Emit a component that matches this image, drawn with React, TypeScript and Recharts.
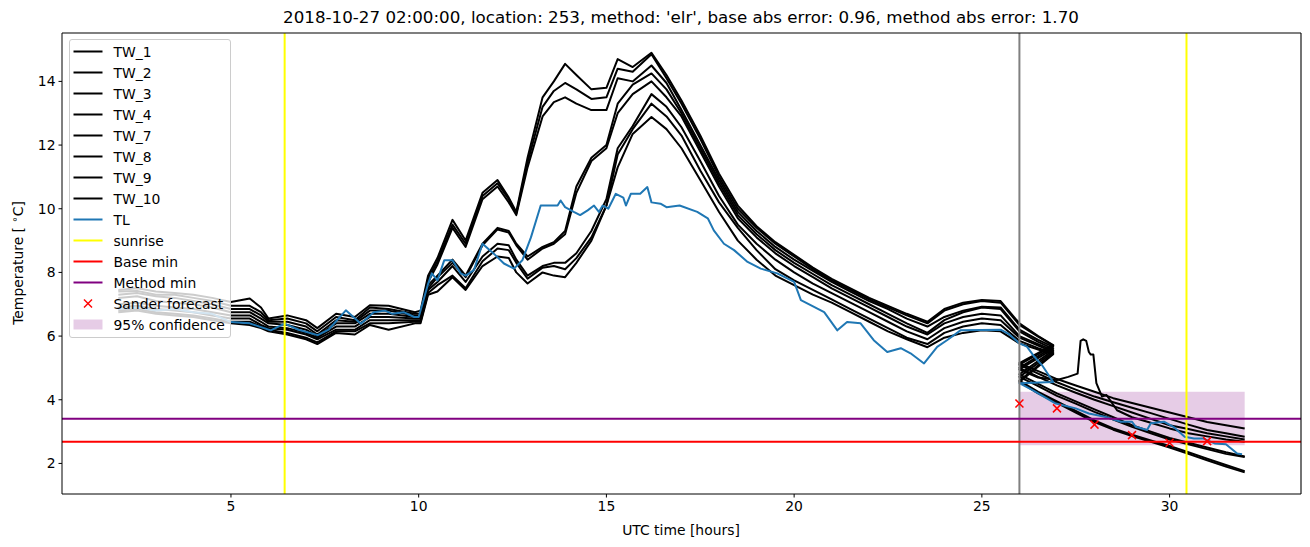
import React from 'react';
import { ComposedChart, Line, Scatter, XAxis, YAxis, ReferenceLine, ReferenceArea } from 'recharts';

const FONT = '"DejaVu Sans", sans-serif';
const TITLE = "2018-10-27 02:00:00, location: 253, method: 'elr', base abs error: 0.96, method abs error: 1.70";

// observed part, hours
const HIST_T = [
  2, 2.5, 3, 3.5, 4, 4.5, 5, 5.5, 5.8, 6, 6.5, 7, 7.3, 7.8, 8.3, 8.7, 9.2, 9.9,
  10.05, 10.25, 10.5, 10.9, 11.25, 11.7, 12.1, 12.4, 12.6, 12.9, 13.3, 13.6, 13.9, 14.2, 14.6, 15.0, 15.3, 15.7, 16.2,
  16.6, 17.0, 17.5, 18.0, 18.5, 19.0, 19.5, 20.0, 20.5, 21.0, 21.5, 22.0, 22.5, 23.0, 23.55, 24.0, 24.5, 25.0, 25.5, 26.0, 26.5, 26.9,
];
// forecast part, hours
const FC_T = [26, 26.5, 27, 27.5, 28, 28.5, 29, 29.5, 30, 30.5, 31, 31.5, 32];
const SPIKE_T = [26, 26.5, 27, 27.3, 27.55, 27.63, 27.7, 27.78, 27.85, 27.9, 27.97, 28.05, 28.2, 28.32, 28.6, 29, 29.5, 30, 30.5, 31, 31.5, 32];

const TW_1 = [
  7.45, 7.5, 7.4, 7.35, 7.3, 7.2, 7.07, 7.18, 6.9, 6.55, 6.65, 6.5, 6.25, 6.7, 6.6, 6.97, 6.95, 6.75,
  6.8, 7.9, 8.45, 9.65, 9.0, 10.5, 10.9, 10.35, 9.9, 11.6, 13.5, 14.0, 14.55, 14.2, 13.75, 13.8, 14.7, 14.45, 14.9,
  14.2, 13.4, 12.3, 11.1, 10.1, 9.45, 8.95, 8.55, 8.15, 7.8, 7.5, 7.2, 6.95, 6.7, 6.45, 6.85, 7.05, 7.13, 7.1, 6.4, 6.0, 5.72,
];
const TW_2 = [
  7.4, 7.42, 7.3, 7.3, 7.2, 7.1, 6.95, 6.95, 6.75, 6.5, 6.55, 6.4, 6.15, 6.6, 6.5, 6.9, 6.85, 6.7,
  6.7, 7.8, 8.35, 9.5, 8.9, 10.4, 10.8, 10.3, 9.85, 11.45, 13.2, 13.7, 13.95, 13.75, 13.45, 13.5, 14.4, 14.3, 14.85,
  14.1, 13.3, 12.2, 11.0, 10.0, 9.4, 8.9, 8.5, 8.1, 7.75, 7.45, 7.15, 6.9, 6.65, 6.4, 6.8, 7.0, 7.1, 7.05, 6.35, 5.98, 5.7,
];
const TW_3 = [
  7.3, 7.35, 7.25, 7.2, 7.1, 7.0, 6.85, 6.85, 6.65, 6.45, 6.45, 6.3, 6.05, 6.5, 6.45, 6.8, 6.8, 6.65,
  6.65, 7.7, 8.25, 9.4, 8.8, 10.3, 10.7, 10.2, 9.8, 11.3, 12.9, 13.35, 13.5, 13.3, 13.1, 13.1, 14.1, 14.0, 14.5,
  13.95, 13.1, 12.0, 10.9, 9.9, 9.3, 8.8, 8.4, 8.05, 7.7, 7.4, 7.1, 6.85, 6.55, 6.3, 6.6, 6.8, 6.92, 6.9, 6.2, 5.88, 5.66,
];
const TW_4 = [
  7.2, 7.25, 7.1, 7.05, 7.0, 6.9, 6.75, 6.75, 6.55, 6.4, 6.35, 6.2, 6.0, 6.4, 6.4, 6.7, 6.7, 6.6,
  6.6, 7.6, 7.9, 8.4, 7.9, 8.9, 9.4, 9.3, 8.9, 8.5, 8.8, 8.95, 9.3, 10.7, 11.6, 12.0, 13.3, 13.9, 14.25,
  13.75, 13.0, 11.9, 10.8, 9.8, 9.2, 8.7, 8.3, 7.95, 7.6, 7.3, 7.0, 6.7, 6.4, 6.1, 6.5, 6.75, 6.9, 6.85, 6.15, 5.82, 5.6,
];
const TW_7 = [
  7.0, 7.05, 6.95, 6.9, 6.85, 6.75, 6.65, 6.65, 6.45, 6.3, 6.25, 6.1, 5.95, 6.3, 6.3, 6.6, 6.6, 6.55,
  6.55, 7.5, 7.85, 8.3, 7.85, 8.85, 9.35, 9.25, 8.85, 8.4, 8.75, 8.9, 9.2, 10.5, 11.5, 11.9, 13.0, 13.6, 14.0,
  13.5, 12.9, 11.8, 10.7, 9.7, 9.1, 8.6, 8.2, 7.85, 7.5, 7.2, 6.9, 6.6, 6.3, 6.05, 6.4, 6.6, 6.7, 6.65, 6.0, 5.75, 5.55,
];
const TW_8 = [
  6.9, 6.95, 6.85, 6.8, 6.75, 6.65, 6.55, 6.55, 6.35, 6.25, 6.2, 6.05, 5.9, 6.2, 6.2, 6.5, 6.5, 6.5,
  6.5, 7.45, 7.7, 8.2, 7.7, 8.5, 8.9, 8.85, 8.4, 7.9, 8.2, 8.3, 8.3, 8.6, 9.3, 10.3, 11.9, 12.6, 13.6,
  13.2, 12.56, 11.5, 10.4, 9.5, 8.9, 8.4, 8.0, 7.65, 7.35, 7.05, 6.75, 6.45, 6.15, 5.9, 6.25, 6.45, 6.55, 6.5, 5.95, 5.7, 5.5,
];
const TW_9 = [
  6.8, 6.85, 6.75, 6.7, 6.65, 6.55, 6.45, 6.45, 6.3, 6.2, 6.1, 5.95, 5.8, 6.15, 6.15, 6.4, 6.4, 6.45,
  6.45, 7.35, 7.6, 7.9, 7.5, 8.35, 8.75, 8.7, 8.3, 7.8, 8.15, 8.2, 8.1, 8.45, 9.1, 10.1, 11.7, 12.5, 13.3,
  12.9, 12.3, 11.2, 10.2, 9.4, 8.7, 8.1, 7.75, 7.45, 7.15, 6.85, 6.55, 6.25, 5.95, 5.75, 6.1, 6.3, 6.4, 6.35, 5.85, 5.62, 5.46,
];
const TW_10 = [
  6.75, 6.8, 6.7, 6.65, 6.6, 6.5, 6.4, 6.35, 6.25, 6.15, 6.05, 5.9, 5.75, 6.1, 6.05, 6.35, 6.2, 6.4,
  6.4, 7.3, 7.4, 7.85, 7.45, 8.2, 8.5, 8.45, 8.0, 7.65, 8.0, 7.9, 7.85, 8.3, 9.0, 10.1, 11.3, 12.35, 12.88,
  12.5, 11.9, 10.9, 9.9, 9.0, 8.4, 7.9, 7.6, 7.3, 7.05, 6.75, 6.45, 6.15, 5.9, 5.65, 5.95, 6.1, 6.18, 6.15, 5.77, 5.58, 5.43,
];

const TW_1_FC = [5.15, 4.9, 4.65, 4.45, 4.25, 4.05, 3.9, 3.75, 3.6, 3.45, 3.3, 3.2, 3.1];
const TW_2_FC = [5.1, 4.82, 4.55, 4.32, 4.1, 3.92, 3.75, 3.58, 3.4, 3.22, 3.05, 2.95, 2.84];
const TW_3_FC = [5.0, 4.72, 4.45, 4.22, 4.0, 3.8, 3.6, 3.4, 3.2, 3.08, 2.95, 2.85, 2.75];
const TW_4_FC = [4.95, 4.7, 4.62, 4.72, 4.82, 5.85, 5.9, 5.85, 5.5, 5.42, 5.42, 4.52, 4.1, 4.15, 3.67, 3.45, 3.28, 3.1, 2.95, 2.85, 2.75, 2.68];
const TW_7_FC = [4.8, 4.5, 4.2, 3.95, 3.7, 3.45, 3.2, 3.0, 2.8, 2.65, 2.5, 2.35, 2.22];
const TW_8_FC = [4.72, 4.43, 4.12, 3.88, 3.62, 3.38, 3.15, 2.95, 2.75, 2.6, 2.45, 2.3, 2.2];
const TW_9_FC = [4.6, 4.25, 3.95, 3.65, 3.35, 3.1, 2.9, 2.72, 2.55, 2.35, 2.15, 1.95, 1.76];
const TW_10_FC = [4.56, 4.2, 3.9, 3.6, 3.3, 3.06, 2.86, 2.68, 2.5, 2.3, 2.1, 1.9, 1.72];

const TL_T = [
  2, 2.5, 3, 3.5, 4, 4.5, 5, 5.5, 6.06, 6.43,
  6.8, 7.31, 7.6, 8.06, 8.46, 8.8, 9.1, 9.3, 9.6, 9.88,
  10.0, 10.24, 10.35, 10.5, 10.68, 10.9, 11.12, 11.25, 11.47, 11.7,
  12.0, 12.27, 12.54, 12.76, 12.99, 13.25, 13.7, 13.78, 13.9, 14.13,
  14.3, 14.5, 14.67, 14.8, 14.9, 15.05, 15.25, 15.45, 15.52, 15.65,
  15.9, 16.09, 16.2, 16.44, 16.6, 16.95, 17.42, 17.7, 17.86, 18.13,
  18.4, 18.76, 19.11, 19.55, 20.0, 20.18, 20.53, 20.8, 21.15, 21.41,
  21.77, 22.12, 22.48, 22.84, 23.1, 23.46, 23.81, 24.07, 24.43, 25.5,
  25.7, 26.0, 26.2, 26.4, 26.6, 26.9, 26.0, 26.35, 26.97, 27.5,
  27.85, 28.3, 28.7, 29.0, 29.1, 29.4, 29.5, 29.85, 30.1, 30.4,
  30.65, 30.9, 31.2, 31.5, 31.8, 31.93,
];
const TL_V = [
  6.85, 6.9, 6.8, 6.85, 6.75, 6.7, 6.44, 6.4, 6.18, 6.39,
  6.2, 6.03, 6.2, 6.81, 6.39, 6.75, 6.8, 6.7, 6.75, 6.6,
  6.6, 7.6, 7.97, 7.75, 8.38, 8.38, 7.97, 7.9, 8.07, 8.9,
  8.59, 8.28, 8.12, 8.38, 9.1, 10.1, 10.1, 10.26, 10.05, 9.9,
  9.8, 9.95, 10.1, 9.9, 10.1, 10.0, 10.47, 10.35, 10.1, 10.47,
  10.47, 10.68, 10.2, 10.16, 10.05, 10.1, 9.9, 9.7, 9.32, 8.9,
  8.7, 8.33, 8.12, 7.97, 7.7, 7.13, 6.92, 6.75, 6.18, 6.44,
  6.4, 5.87, 5.5, 5.62, 5.46, 5.14, 5.66, 5.87, 6.18, 6.2,
  6.08, 5.77, 5.67, 5.35, 5.09, 4.56, 4.52, 4.3, 3.88, 3.73,
  3.57, 3.46, 3.31, 3.31, 3.15, 3.05, 3.26, 3.31, 3.15, 2.84,
  2.78, 2.78, 2.63, 2.6, 2.31, 2.29,
];

const SANDER_T = [26, 27, 28, 29, 30, 31];
const SANDER_V = [3.88, 3.73, 3.22, 2.89, 2.65, 2.7];

const SUNRISE = [6.43, 30.45];
const NOW_T = 26;
const BASE_MIN = 2.68;
const METHOD_MIN = 3.4;
const CONF_T = [26, 32];
const CONF_V = [2.57, 4.25];

const X_DOMAIN = [0.5, 33.5];
const Y_DOMAIN = [1.04, 15.52];
const X_TICKS = [5, 10, 15, 20, 25, 30];
const Y_TICKS = [2, 4, 6, 8, 10, 12, 14];

const toPts = (xs: number[], ys: number[]) =>
  xs.slice(0, Math.min(xs.length, ys.length)).map((x, i) => ({ x, y: ys[i] }));

const TW = [
  { name: 'TW_1', hist: TW_1, fcT: FC_T, fc: TW_1_FC },
  { name: 'TW_2', hist: TW_2, fcT: FC_T, fc: TW_2_FC },
  { name: 'TW_3', hist: TW_3, fcT: FC_T, fc: TW_3_FC },
  { name: 'TW_4', hist: TW_4, fcT: SPIKE_T, fc: TW_4_FC },
  { name: 'TW_7', hist: TW_7, fcT: FC_T, fc: TW_7_FC },
  { name: 'TW_8', hist: TW_8, fcT: FC_T, fc: TW_8_FC },
  { name: 'TW_9', hist: TW_9, fcT: FC_T, fc: TW_9_FC },
  { name: 'TW_10', hist: TW_10, fcT: FC_T, fc: TW_10_FC },
].map(s => ({ name: s.name, pts: [...toPts(HIST_T, s.hist), ...toPts(s.fcT, s.fc)] }));

const tlPts = toPts(TL_T, TL_V);
const sanderPts = toPts(SANDER_T, SANDER_V);

const XMark = (props: any) => {
  const { cx, cy } = props;
  if (cx == null || cy == null) return null;
  const r = 4;
  return (
    <g>
      <line x1={cx - r} y1={cy - r} x2={cx + r} y2={cy + r} stroke="red" strokeWidth={1.5} />
      <line x1={cx - r} y1={cy + r} x2={cx + r} y2={cy - r} stroke="red" strokeWidth={1.5} />
    </g>
  );
};

const LEGEND = [
  ...TW.map(s => ({ label: s.name, kind: 'line', color: '#000' })),
  { label: 'TL', kind: 'line', color: '#1f77b4' },
  { label: 'sunrise', kind: 'line', color: 'yellow' },
  { label: 'Base min', kind: 'line', color: 'red' },
  { label: 'Method min', kind: 'line', color: 'purple' },
  { label: 'Sander forecast', kind: 'x', color: 'red' },
  { label: '95% confidence', kind: 'patch', color: 'rgba(128,0,128,0.2)' },
];

function LegendBox() {
  return (
    <div style={{
      position: 'absolute', left: 68.5, top: 39, width: 160, height: 297,
      background: 'rgba(255,255,255,0.8)', border: '1px solid #cccccc', borderRadius: 3,
      fontFamily: FONT, fontSize: 13.9, color: '#000',
    }}>
      {LEGEND.map((e, i) => (
        <div key={e.label} style={{ position: 'absolute', left: 0, top: 1 + i * 21, height: 21, width: 160, display: 'flex', alignItems: 'center' }}>
          <svg width={40} height={21} style={{ flex: 'none' }}>
            {e.kind === 'line' && <line x1={3.5} y1={10.5} x2={32.5} y2={10.5} stroke={e.color} strokeWidth={2} />}
            {e.kind === 'x' && (
              <g>
                <line x1={14} y1={6.5} x2={22} y2={14.5} stroke="red" strokeWidth={1.5} />
                <line x1={14} y1={14.5} x2={22} y2={6.5} stroke="red" strokeWidth={1.5} />
              </g>
            )}
            {e.kind === 'patch' && <rect x={3.5} y={5.5} width={29} height={10} fill={e.color} />}
          </svg>
          <span style={{ marginLeft: 4, whiteSpace: 'nowrap' }}>{e.label}</span>
        </div>
      ))}
    </div>
  );
}

export default function App() {
  return (
    <div style={{ position: 'absolute', left: 0, top: 0, width: 1310, height: 547, background: '#fff', fontFamily: FONT }}>
      <ComposedChart width={1310} height={547} margin={{ top: 33, right: 9, bottom: 0, left: 0 }}>
        <XAxis
          type="number" dataKey="x" domain={X_DOMAIN} ticks={X_TICKS} allowDataOverflow
          height={53} tickSize={3.5} tickMargin={4} stroke="#000"
          tick={{ fill: '#000', fontSize: 13.9, fontFamily: FONT }}
          label={{ content: () => <text x={681} y={535} textAnchor="middle" fontSize={13.9} fontFamily={FONT} fill="#000">UTC time [hours]</text> }}
        />
        <YAxis
          type="number" dataKey="y" domain={Y_DOMAIN} ticks={Y_TICKS} allowDataOverflow
          width={62} tickSize={3.5} tickMargin={3} stroke="#000"
          tick={{ fill: '#000', fontSize: 13.9, fontFamily: FONT }}
          label={{
            content: () => (
              <text transform="translate(23,263) rotate(-90)" textAnchor="middle" fontSize={13.9} fontFamily={FONT} fill="#000">
                <tspan>Temperature [ </tspan>
                <tspan dy={-5} fontSize={10}>∘</tspan>
                <tspan dy={5}>C]</tspan>
              </text>
            ),
          }}
        />
        <ReferenceArea x1={CONF_T[0]} x2={CONF_T[1]} y1={CONF_V[0]} y2={CONF_V[1]} fill="#800080" fillOpacity={0.2} stroke="none" />
        {TW.map(s => (
          <Line key={s.name} data={s.pts} dataKey="y" name={s.name} stroke="#000" strokeWidth={2}
            strokeLinejoin="round" dot={false} activeDot={false} isAnimationActive={false} />
        ))}
        <Line data={tlPts} dataKey="y" name="TL" stroke="#1f77b4" strokeWidth={2} strokeLinejoin="round"
          dot={false} activeDot={false} isAnimationActive={false} />
        {SUNRISE.map(x => (
          <ReferenceLine key={x} x={x} stroke="yellow" strokeWidth={2} />
        ))}
        <ReferenceLine x={NOW_T} stroke="gray" strokeWidth={2} />
        <ReferenceLine y={BASE_MIN} stroke="red" strokeWidth={2} />
        <ReferenceLine y={METHOD_MIN} stroke="purple" strokeWidth={2} />
        <Scatter data={sanderPts} dataKey="y" name="Sander forecast" shape={XMark} isAnimationActive={false} />
        <ReferenceLine y={Y_DOMAIN[1]} stroke="#000" strokeWidth={1.1} />
        <ReferenceLine x={X_DOMAIN[1]} stroke="#000" strokeWidth={1.1} />
        <text x={681} y={23} textAnchor="middle" fontSize={16.7} fontFamily={FONT} fill="#000">{TITLE}</text>
      </ComposedChart>
      <LegendBox />
    </div>
  );
}
